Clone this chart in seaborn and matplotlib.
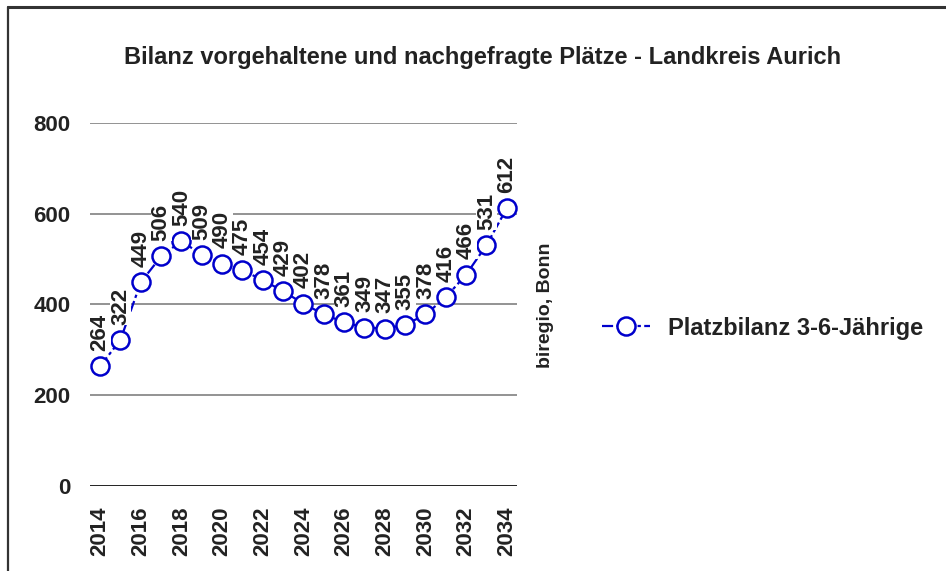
import pandas as pd
import matplotlib
matplotlib.use("Agg")
import matplotlib.pyplot as plt
import seaborn as sns
from matplotlib.lines import Line2D

# Data
years = [2014, 2015, 2016, 2017, 2018, 2019, 2020, 2021, 2022, 2023, 2024,
         2025, 2026, 2027, 2028, 2029, 2030, 2031, 2032, 2033, 2034]
platzbilanz = [264, 322, 449, 506, 540, 509, 490, 475, 454, 429, 402,
               378, 361, 349, 347, 355, 378, 416, 466, 531, 612]
year_ticks = [str(y) for y in range(2014, 2035, 2)]
y_ticks = [0, 200, 400, 600, 800]

df = pd.DataFrame({"year": years, "value": platzbilanz})
df["pos"] = range(len(df))

sns.set_style("white")
plt.rcParams["font.family"] = ["Liberation Sans", "DejaVu Sans"]
plt.rcParams["font.weight"] = "bold"

blue = "#0000CC"
text_col = "#222222"

fig = plt.figure(figsize=(9.46, 5.71), dpi=100)
ax = fig.add_axes([0.0951, 0.1489, 0.4514, 0.6357])

# gridlines
for t in y_ticks[1:]:
    ax.axhline(t, color="#808080", lw=1.2, zorder=0)
ax.axhline(0, color="#222222", lw=1.4, zorder=0)

sns.lineplot(data=df, x="pos", y="value", ax=ax, color=blue, lw=1.6,
             linestyle=(0, (5, 1.5, 1.5, 1.5)), marker="o", markersize=13,
             markerfacecolor="white", markeredgecolor=blue, markeredgewidth=1.8,
             label="Platzbilanz 3-6-Jährige", zorder=3)

# data labels
for p, v in zip(df["pos"], df["value"]):
    ax.annotate(str(v), (p, v), xytext=(0, 11), textcoords="offset points",
                rotation=90, ha="center", va="bottom", fontsize=16,
                fontweight="bold", color=text_col, zorder=4,
                bbox=dict(boxstyle="square,pad=0.0", fc="white", ec="none"))

ax.set_xlim(-0.5, len(years) - 0.5)
ax.set_ylim(0, 800)
ax.set_yticks(y_ticks)
ax.set_yticklabels([str(t) for t in y_ticks], fontsize=16, fontweight="bold", color=text_col)
ax.set_xticks([i for i, y in enumerate(years) if str(y) in year_ticks])
ax.set_xticklabels(year_ticks, rotation=90, fontsize=16, fontweight="bold", color=text_col)
ax.tick_params(axis="y", length=0, pad=14)
ax.tick_params(axis="x", length=0, pad=15)
ax.set_xlabel("")
ax.set_ylabel("")
for s in ax.spines.values():
    s.set_visible(False)

ax.legend(loc="center left", bbox_to_anchor=(1.15, 0.435), frameon=False,
          prop={"size": 17, "weight": "bold"}, handlelength=2.0,
          handletextpad=0.8, labelcolor=text_col)

fig.text(0.577, 0.466, "biregio, Bonn", rotation=90, ha="center", va="center",
         fontsize=14, fontweight="bold", color=text_col)

fig.suptitle("Bilanz vorgehaltene und nachgefragte Plätze - Landkreis Aurich",
             x=0.51, y=0.92, fontsize=17, fontweight="bold", color=text_col)

# frame lines (top and left)
fig.add_artist(Line2D([0.0085, 1.0], [0.987, 0.987], transform=fig.transFigure,
                      color="#333333", lw=2.2))
fig.add_artist(Line2D([0.0085, 0.0085], [0.0, 0.987], transform=fig.transFigure,
                      color="#333333", lw=1.6))

fig.savefig("out.png", dpi=100)
